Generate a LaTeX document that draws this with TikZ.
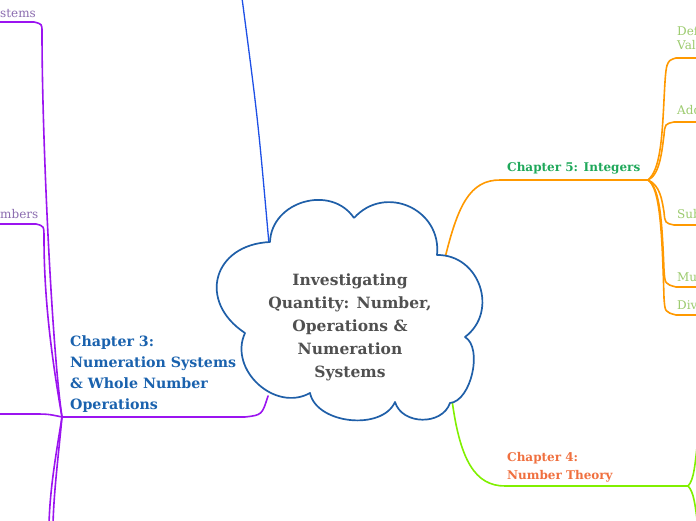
\documentclass[tikz,border=0pt]{standalone}
\usepackage{fontspec}
\setmainfont{DejaVu Serif}
\usetikzlibrary{calc}
\definecolor{cloudblue}{HTML}{1F5FA8}
\definecolor{topblue}{HTML}{1E50E6}
\definecolor{chpurple}{HTML}{9B14F0}
\definecolor{chorange}{HTML}{FF9900}
\definecolor{chlime}{HTML}{80F000}
\definecolor{rootgray}{HTML}{505050}
\definecolor{chblue}{HTML}{1A62AE}
\definecolor{chgreen}{HTML}{1FA85A}
\definecolor{chred}{HTML}{F0703F}
\definecolor{leafgreen}{HTML}{9CCB6E}
\definecolor{leafpurple}{HTML}{8C6DB0}

\begin{document}
\begin{tikzpicture}[x=1pt,y=1pt,
    branch/.style={line width=1.6pt, line cap=round},
    chaptext/.style={font=\bfseries\fontsize{14.2}{21}\selectfont, align=left, inner sep=0pt, anchor=north west},
    leaftext/.style={font=\fontsize{12}{14}\selectfont, inner sep=0pt, anchor=base west},
    puff/.style={bend left=72, looseness=#1}]
    \fill[white] (0,0) rectangle (696,520);
    \useasboundingbox (0,0) rectangle (696,520);

    \coordinate (d1) at (354,302);
    \coordinate (d2) at (437,265);
    \coordinate (d3) at (465,183);
    \coordinate (d4) at (450,117);
    \coordinate (d5) at (395,118);
    \coordinate (d6) at (310,127);
    \coordinate (d7) at (245,187);
    \coordinate (d8) at (270,278);

    % top branch
    \coordinate (topfrom) at (269,276);
    \coordinate (topend) at (242,522);
    \draw[branch, topblue, line width=1.3pt] (topfrom) .. controls (258,400) .. (topend);

    % chapter 3
    \coordinate (c3from) at (268,124);
    \coordinate (j3) at (62,103);
    \coordinate (sysend) at (-2,498);
    \coordinate (numend) at (-2,296);
    \coordinate (midend) at (-2,106);
    \coordinate (lowa) at (49,-4);
    \coordinate (lowb) at (53,-4);
    \draw[branch, chpurple] (c3from) .. controls (262,105) .. (245,103) -- (j3);
    \draw[branch, chpurple] (j3) .. controls (52,170) and (42,380) .. (42,488) .. controls (42,496) .. (34,498) -- (sysend);
    \draw[branch, chpurple] (j3) .. controls (52,160) and (44,220) .. (44,282) .. controls (44,294) .. (36,296) -- (numend);
    \draw[branch, chpurple] (j3) .. controls (48,106) .. (30,106) -- (midend);
    \draw[branch, chpurple] (j3) .. controls (55,60) and (50,30) .. (lowa);
    \draw[branch, chpurple] (j3) .. controls (58,60) and (54,30) .. (lowb);
    \node[chaptext, text=chblue] (ch3) at (70,184) {Chapter 3:\\Numeration Systems\\\& Whole Number\\Operations};
    \node[leaftext, text=leafpurple] (sys) at (0,502) {stems};
    \node[leaftext, text=leafpurple] (num) at (0,301) {mbers};

    % chapter 5
    \coordinate (c5from) at (445,262);
    \coordinate (j5) at (648,340);
    \draw[branch, chorange] (c5from) .. controls (458,315) and (470,340) .. (500,340) -- (j5);
    \draw[branch, chorange] (j5) .. controls (660,350) and (662,380) .. (664,420) .. controls (666,459) .. (676,462) -- (700,462);
    \draw[branch, chorange] (j5) .. controls (660,345) and (662,370) .. (664,385) .. controls (665,396) .. (674,398) -- (700,398);
    \draw[branch, chorange] (j5) .. controls (660,335) and (662,320) .. (664,308) .. controls (665,297) .. (674,295) -- (700,295);
    \draw[branch, chorange] (j5) .. controls (660,332) and (662,300) .. (664,250) .. controls (665,236) .. (676,233) -- (700,233);
    \draw[branch, chorange] (j5) .. controls (660,332) and (662,290) .. (664,222) .. controls (665,208) .. (676,205) -- (700,205);
    \node[chaptext, text=chgreen, font=\bfseries\fontsize{12}{18}\selectfont] (ch5) at (507,358) {Chapter 5: Integers};
    \node[leaftext, text=leafgreen] (def) at (677,484) {Def};
    \node[leaftext, text=leafgreen] (val) at (677,470) {Val};
    \node[leaftext, text=leafgreen] (add) at (677,405) {Add};
    \node[leaftext, text=leafgreen] (sub) at (677,301) {Sub};
    \node[leaftext, text=leafgreen] (mul) at (677,238) {Mu};
    \node[leaftext, text=leafgreen] (div) at (677,211) {Div};

    % chapter 4
    \coordinate (c4from) at (452,120);
    \coordinate (j4) at (688,34);
    \draw[branch, chlime] (c4from) .. controls (460,60) and (475,34) .. (505,34) -- (j4);
    \draw[branch, chlime] (j4) .. controls (694,40) and (695,55) .. (698,82);
    \draw[branch, chlime] (j4) .. controls (694,28) and (695,15) .. (698,-6);
    \node[chaptext, text=chred, font=\bfseries\fontsize{12}{18}\selectfont] (ch4) at (507,68) {Chapter 4:\\Number Theory};

    % central cloud
    \draw[cloudblue, line width=1.7pt, fill=white, line join=round] (d1) to[puff=1.3] (d2) to[puff=1.26] (d3) to[puff=0.8] (d4) to[puff=1.12] (d5) to[puff=0.95] (d6) to[puff=1.16] (d7) to[puff=1.55] (d8) to[puff=1.2] (d1);
    \node[font=\bfseries\fontsize{15.5}{23}\selectfont, text=rootgray, align=center] (root) at (350,193) {Investigating\\Quantity: Number,\\Operations \&\\Numeration\\Systems};
\end{tikzpicture}
\end{document}
